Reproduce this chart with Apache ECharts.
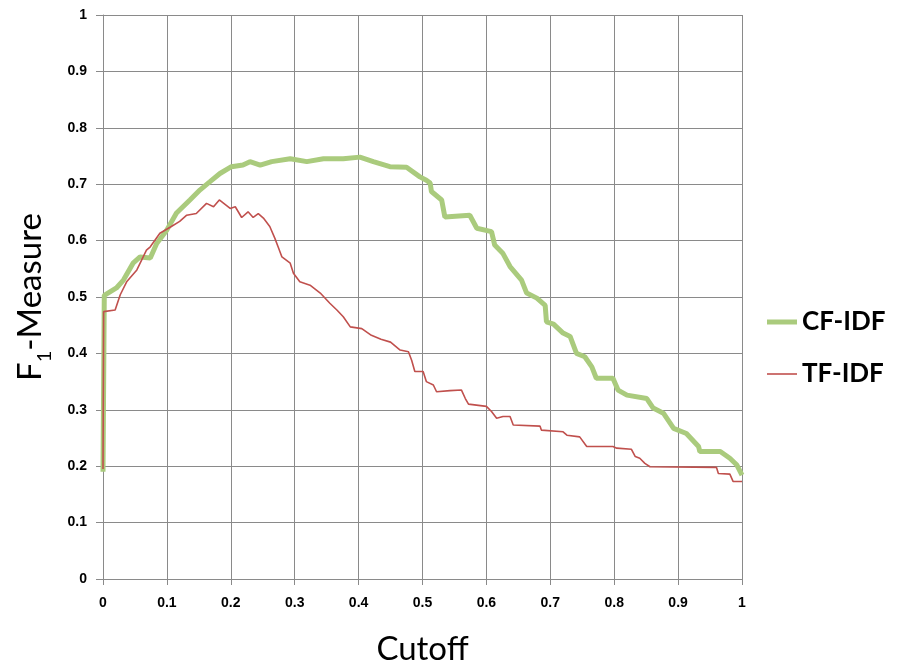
<!DOCTYPE html>
<html>
<head>
<meta charset="utf-8">
<script src="https://cdn.jsdelivr.net/npm/echarts@6/dist/echarts.min.js"></script>
<style>
  html, body { margin: 0; padding: 0; background: #fff; }
  #chart { width: 902px; height: 663px; }
</style>
</head>
<body>
<div id="chart"></div>
<script>
// CF-IDF curve
const cfX = [0, 0.002, 0.021, 0.032, 0.047, 0.058, 0.074, 0.084, 0.1, 0.115, 0.136, 0.152, 0.167, 0.183,
  0.201, 0.219, 0.23, 0.246, 0.264, 0.293, 0.319, 0.345, 0.376, 0.402, 0.423, 0.449, 0.475, 0.496,
  0.506, 0.512, 0.514, 0.53, 0.535, 0.574, 0.585, 0.608, 0.613, 0.626, 0.637, 0.655, 0.663, 0.679,
  0.692, 0.694, 0.705, 0.72, 0.731, 0.741, 0.754, 0.765, 0.772, 0.798, 0.806, 0.82, 0.851, 0.861,
  0.877, 0.893, 0.913, 0.932, 0.934, 0.966, 0.981, 0.992, 1.0]
const cfY = [0.19, 0.503, 0.516, 0.53, 0.56, 0.571, 0.569, 0.595, 0.619, 0.649, 0.672, 0.69, 0.704, 0.719,
  0.731, 0.734, 0.74, 0.734, 0.74, 0.745, 0.74, 0.745, 0.745, 0.748, 0.74, 0.731, 0.73, 0.713,
  0.707, 0.702, 0.687, 0.672, 0.642, 0.645, 0.622, 0.616, 0.592, 0.577, 0.554, 0.53, 0.507, 0.498,
  0.485, 0.456, 0.452, 0.436, 0.43, 0.4, 0.394, 0.376, 0.356, 0.356, 0.335, 0.326, 0.32, 0.303,
  0.294, 0.267, 0.258, 0.235, 0.226, 0.226, 0.214, 0.202, 0.184]

// TF-IDF curve
const tfX = [0, 0.001, 0.019, 0.027, 0.037, 0.053, 0.068, 0.074, 0.089, 0.107, 0.12, 0.131, 0.146, 0.162,
  0.173, 0.182, 0.199, 0.207, 0.217, 0.227, 0.235, 0.243, 0.251, 0.261, 0.269, 0.274, 0.28, 0.293,
  0.298, 0.308, 0.324, 0.34, 0.355, 0.366, 0.376, 0.387, 0.405, 0.42, 0.435, 0.45, 0.465, 0.478,
  0.483, 0.488, 0.501, 0.506, 0.517, 0.522, 0.543, 0.561, 0.567, 0.572, 0.6, 0.608, 0.616, 0.626,
  0.637, 0.642, 0.684, 0.686, 0.72, 0.726, 0.746, 0.757, 0.798, 0.804, 0.827, 0.833, 0.84, 0.848,
  0.856, 0.96, 0.963, 0.981, 0.986, 1.0]
const tfY = [0.195, 0.474, 0.477, 0.504, 0.527, 0.548, 0.583, 0.589, 0.613, 0.625, 0.634, 0.645, 0.648, 0.666,
  0.66, 0.672, 0.657, 0.66, 0.641, 0.651, 0.641, 0.648, 0.64, 0.625, 0.604, 0.589, 0.571, 0.56,
  0.542, 0.527, 0.521, 0.507, 0.489, 0.477, 0.465, 0.447, 0.444, 0.432, 0.425, 0.42, 0.406, 0.403,
  0.388, 0.368, 0.368, 0.35, 0.344, 0.332, 0.334, 0.335, 0.32, 0.31, 0.306, 0.297, 0.285, 0.288,
  0.288, 0.273, 0.271, 0.264, 0.261, 0.255, 0.252, 0.235, 0.235, 0.232, 0.23, 0.217, 0.214, 0.205,
  0.199, 0.198, 0.187, 0.186, 0.173, 0.173]

const toPairs = (xs, ys) => xs.map((x, i) => [x, ys[i]])

const green = '#aacb7d'
const red = '#c0504d'
const gridColor = '#8a8a8a'

const chart = echarts.init(document.getElementById('chart'))
chart.setOption({
  animation: false,
  backgroundColor: '#fff',
  grid: { left: 103, right: 160, top: 15, bottom: 84, containLabel: false, outerBoundsMode: 'none' },
  legend: {
    orient: 'vertical',
    left: 762,
    top: 304,
    itemWidth: 30,
    itemHeight: 14,
    itemGap: 26,
    textStyle: { fontFamily: 'Lato', fontWeight: 'bold', fontSize: 26, color: '#000' },
    data: [
      { name: 'CF-IDF', icon: 'path://M0,0H30V5H0Z' },
      { name: 'TF-IDF', icon: 'path://M0,0H30V1.6H0Z' },
    ],
  },
  xAxis: {
    type: 'value',
    min: 0,
    max: 1,
    interval: 0.1,
    name: 'Cutoff',
    nameLocation: 'middle',
    nameGap: 54,
    nameTextStyle: { fontFamily: 'Lato', fontSize: 33, color: '#000' },
    axisLine: { show: true, onZero: false, lineStyle: { color: gridColor } },
    axisTick: { show: true, length: 6, lineStyle: { color: gridColor } },
    axisLabel: { fontFamily: 'Liberation Sans', fontWeight: 'bold', fontSize: 14, color: '#000', margin: 17 },
    splitLine: { show: true, lineStyle: { color: gridColor, width: 1 } },
  },
  yAxis: {
    type: 'value',
    min: 0,
    max: 1,
    interval: 0.1,
    name: '{a|F}{b|1}{a|-Measure}',
    nameLocation: 'middle',
    nameGap: 56,
    nameRotate: 90,
    nameTextStyle: {
      color: '#000',
      rich: {
        a: { fontFamily: 'Lato', fontSize: 33, color: '#000', verticalAlign: 'bottom' },
        b: { fontFamily: 'Lato', fontSize: 20, color: '#000', verticalAlign: 'bottom', padding: [0, 0, -8, 0] },
      },
    },
    axisLine: { show: true, lineStyle: { color: gridColor } },
    axisTick: { show: true, length: 7, lineStyle: { color: gridColor } },
    axisLabel: { fontFamily: 'Liberation Sans', fontWeight: 'bold', fontSize: 14, color: '#000', margin: 16 },
    splitLine: { show: true, lineStyle: { color: gridColor, width: 1 } },
  },
  series: [
    {
      name: 'CF-IDF',
      type: 'line',
      symbol: 'none',
      data: toPairs(cfX, cfY),
      lineStyle: { color: green, width: 5 },
      itemStyle: { color: green },
      z: 2,
    },
    {
      name: 'TF-IDF',
      type: 'line',
      symbol: 'none',
      data: toPairs(tfX, tfY),
      lineStyle: { color: red, width: 1.6 },
      itemStyle: { color: red },
      z: 3,
    },
  ],
})
</script>
</body>
</html>
